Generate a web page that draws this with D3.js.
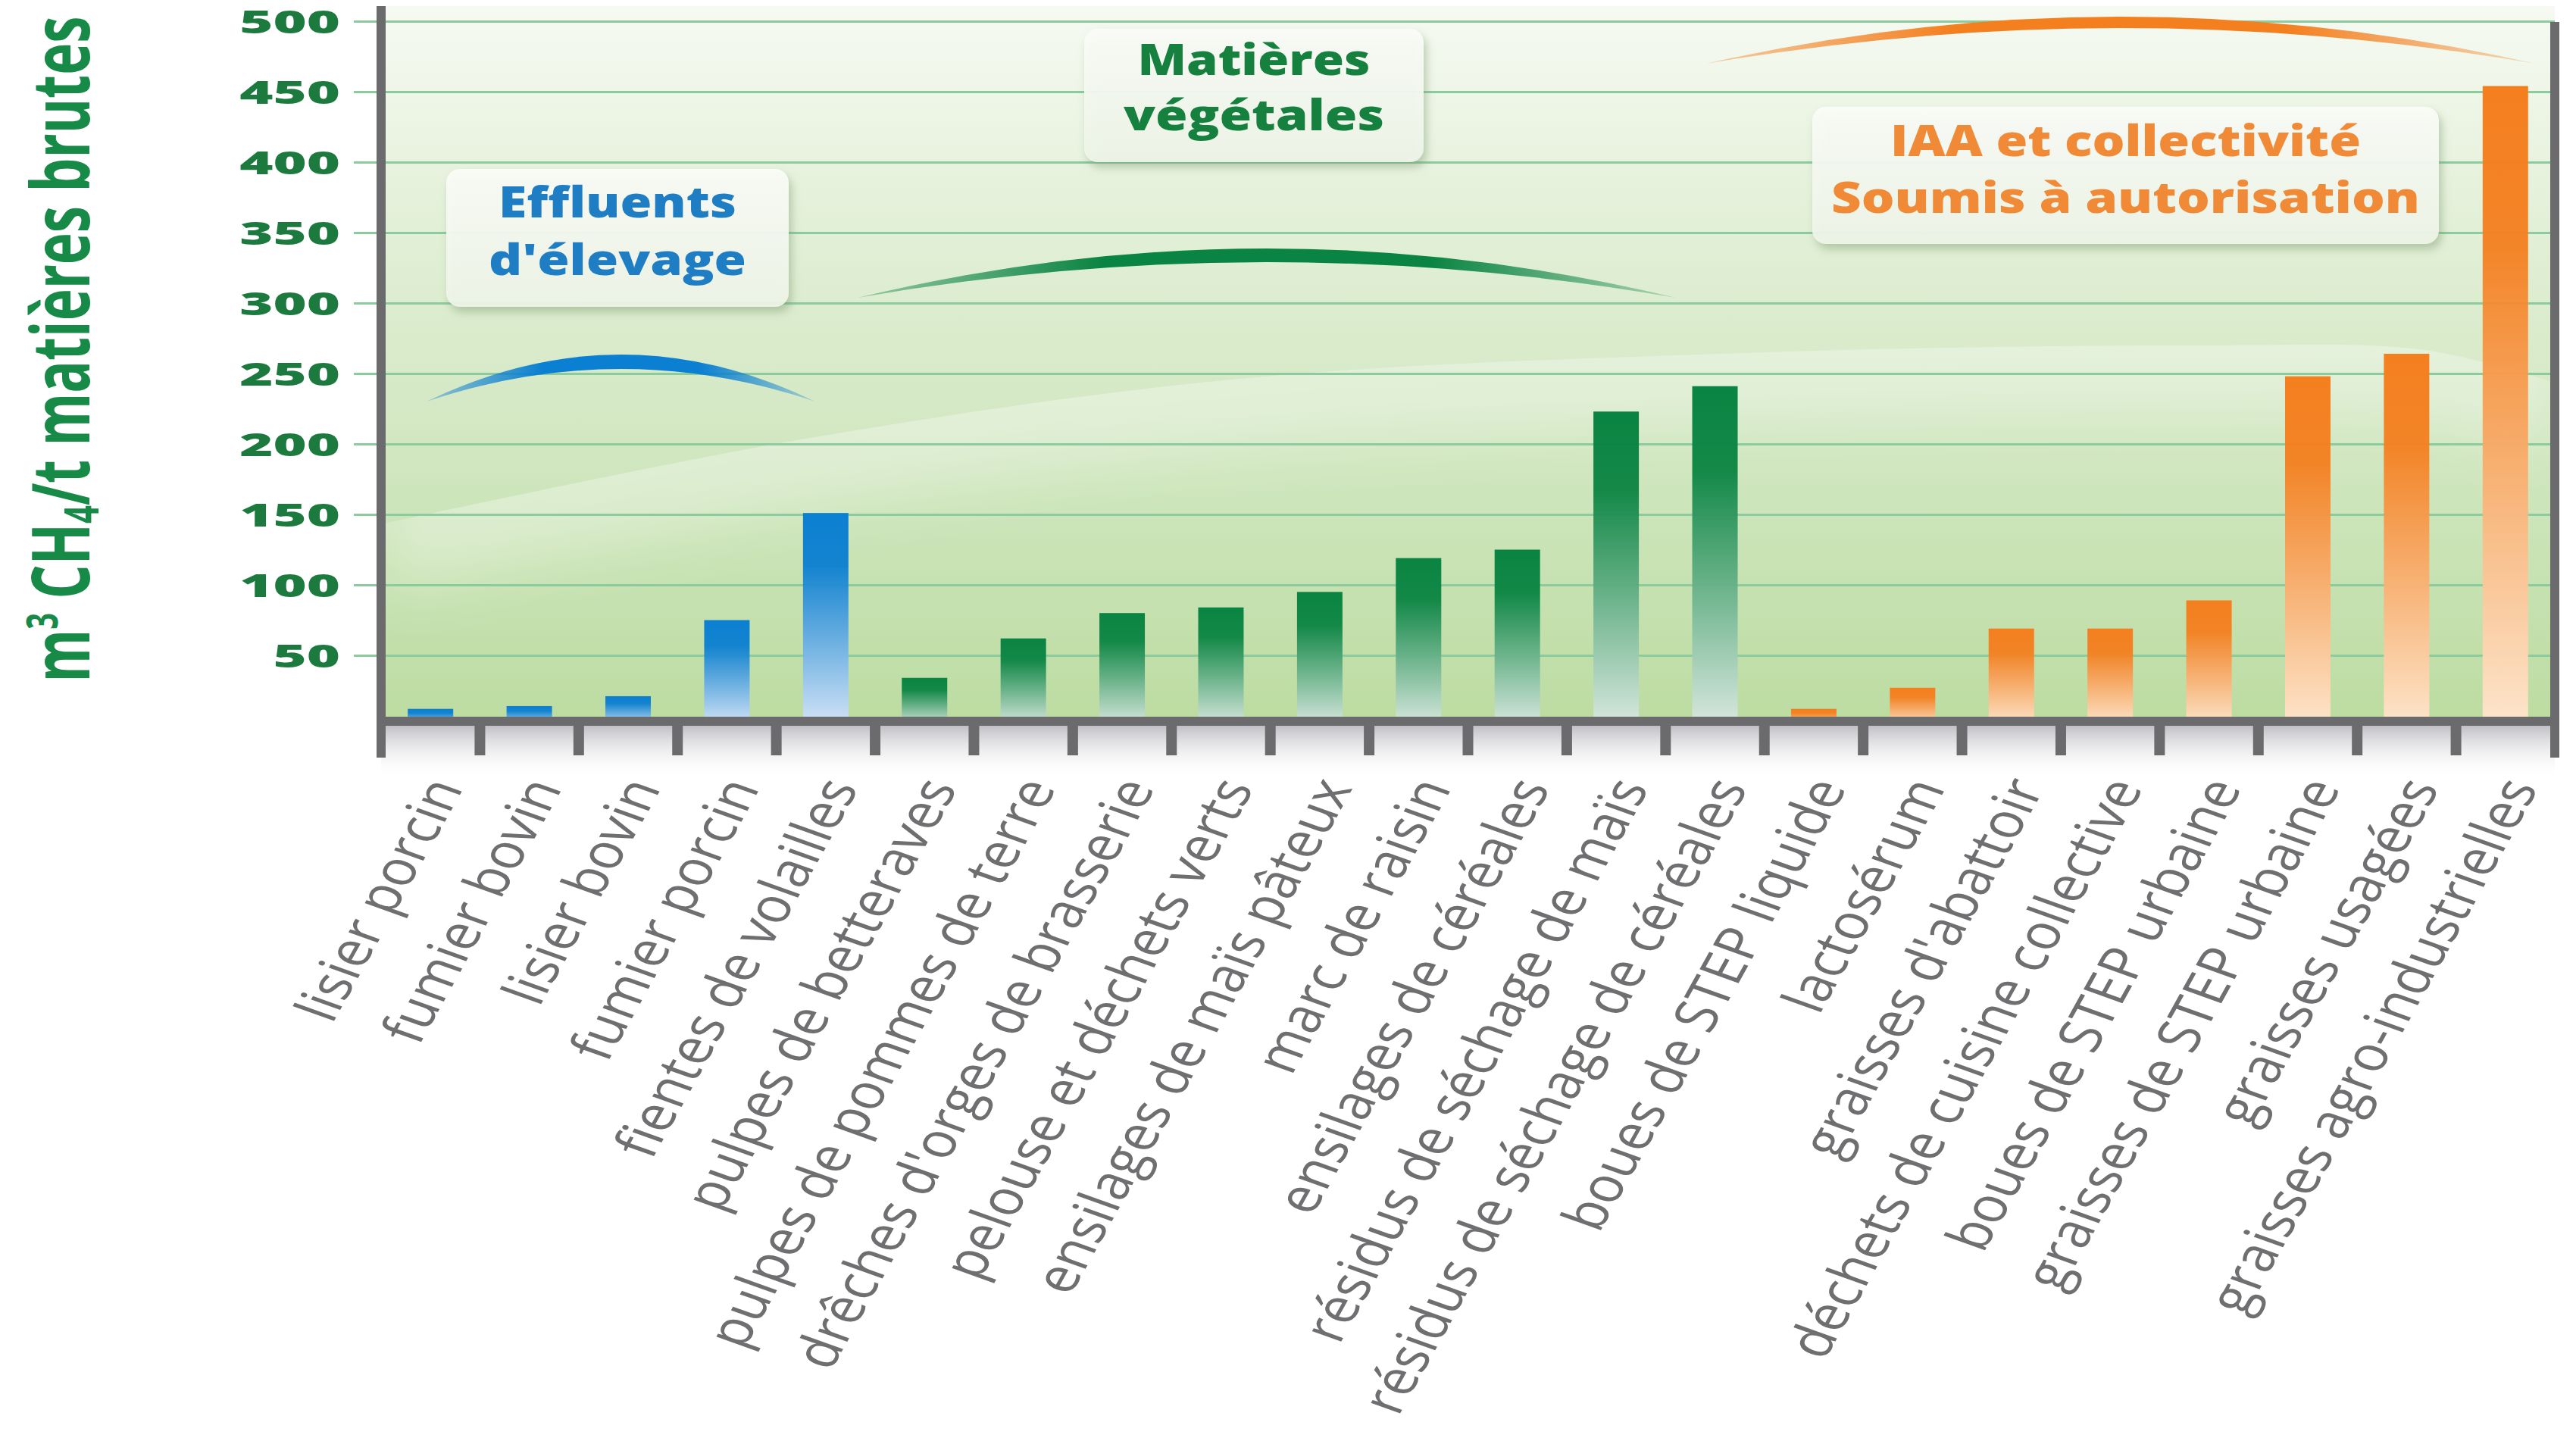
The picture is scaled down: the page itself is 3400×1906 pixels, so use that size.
<!DOCTYPE html>
<html>
<head>
<meta charset="utf-8">
<script src="https://cdn.jsdelivr.net/npm/d3@7"></script>
<style>
  body { margin: 0; background: #fff; }
  svg { display: block; }
</style>
</head>
<body>
<div id="app"></div>
<script>
// --- data ---
const categories = [
    "lisier porcin", "fumier bovin", "lisier bovin", "fumier porcin", "fientes de volailles",
    "pulpes de betteraves", "pulpes de pommes de terre", "drêches d'orges de brasserie",
    "pelouse et déchets verts", "ensilages de maïs pâteux", "marc de raisin",
    "ensilages de céréales", "résidus de séchage de maïs", "résidus de séchage de céréales",
    "boues de STEP liquide", "lactosérum", "graisses d'abattoir", "déchets de cuisine collective",
    "boues de STEP urbaine", "graisses de STEP urbaine", "graisses usagées", "graisses agro-industrielles"
];
const values = [12, 14, 21, 75, 151, 34, 62, 80, 84, 95, 119, 125, 223, 241, 12, 27, 69, 69, 89, 248, 264, 454];
const groupOf = [0, 0, 0, 0, 0, 1, 1, 1, 1, 1, 1, 1, 1, 1, 2, 2, 2, 2, 2, 2, 2, 2];
const groupTitles = [
    ["Effluents", "d'élevage"],
    ["Matières", "végétales"],
    ["IAA et collectivité", "Soumis à autorisation"]
];
const yTicks = [50, 100, 150, 200, 250, 300, 350, 400, 450, 500];

// --- styles ---
const groupColors = [
    {top: "#0b7fd1", bottom: "#d4e4f7", text: "#1f7dc4"},
    {top: "#0a8442", bottom: "#d9e8df", text: "#16803f"},
    {top: "#f47f1f", bottom: "#fde5cc", text: "#f08a37"}
];

const width = 3400,
    height = 1906,
    pLeft = 503,
    pRight = 3372,
    pTop = 28,
    pBase = 958;

const x = d3.scaleBand().domain(categories).range([pLeft, pRight]).paddingInner(0.54).paddingOuter(0.27);
const y = d3.scaleLinear().domain([0, 500]).range([pBase, pTop]);

const svg = d3.select("#app")
    .append("svg")
    .attr("width", width)
    .attr("height", height);

const defs = svg.append("defs");

// background gradient of the plot
const bg = defs.append("linearGradient").attr("id", "bgGrad")
    .attr("x1", 0).attr("y1", 0).attr("x2", 0).attr("y2", 1);
[[0, "#f6faf2"], [0.3, "#e3f0d8"], [0.65, "#cfe6be"], [1, "#bcdca1"]].forEach(s =>
    bg.append("stop").attr("offset", s[0]).attr("stop-color", s[1]));

// bar gradients, one per group
groupColors.forEach((c, i) => {
    const g = defs.append("linearGradient").attr("id", "barGrad" + i)
        .attr("x1", 0).attr("y1", 0).attr("x2", 0).attr("y2", 1);
    g.append("stop").attr("offset", 0).attr("stop-color", c.top);
    g.append("stop").attr("offset", 0.25).attr("stop-color", c.top).attr("stop-opacity", 0.95);
    g.append("stop").attr("offset", 1).attr("stop-color", c.bottom);
});

// arc gradients (fade at the ends)
groupColors.forEach((c, i) => {
    const g = defs.append("linearGradient").attr("id", "arcGrad" + i)
        .attr("x1", 0).attr("y1", 0).attr("x2", 1).attr("y2", 0);
    g.append("stop").attr("offset", 0).attr("stop-color", c.top).attr("stop-opacity", 0.35);
    g.append("stop").attr("offset", 0.3).attr("stop-color", c.top).attr("stop-opacity", 1);
    g.append("stop").attr("offset", 0.7).attr("stop-color", c.top).attr("stop-opacity", 1);
    g.append("stop").attr("offset", 1).attr("stop-color", c.top).attr("stop-opacity", 0.25);
});

const boxGrad = defs.append("linearGradient").attr("id", "boxGrad")
    .attr("x1", 0).attr("y1", 0).attr("x2", 0).attr("y2", 1);
boxGrad.append("stop").attr("offset", 0).attr("stop-color", "#fbfcf8");
boxGrad.append("stop").attr("offset", 1).attr("stop-color", "#eef5e8");

const shGrad = defs.append("linearGradient").attr("id", "shGrad")
    .attr("x1", 0).attr("y1", 0).attr("x2", 0).attr("y2", 1);
shGrad.append("stop").attr("offset", 0).attr("stop-color", "#bdbcc2");
shGrad.append("stop").attr("offset", 1).attr("stop-color", "#ffffff").attr("stop-opacity", 0);

const shadow = defs.append("filter").attr("id", "boxShadow")
    .attr("x", "-10%").attr("y", "-10%").attr("width", "130%").attr("height", "140%");
shadow.append("feDropShadow").attr("dx", 4).attr("dy", 7).attr("stdDeviation", 6)
    .attr("flood-color", "#6f8f64").attr("flood-opacity", 0.45);

const blur = defs.append("filter").attr("id", "blur")
    .attr("x", "-20%").attr("y", "-150%").attr("width", "140%").attr("height", "400%");
blur.append("feGaussianBlur").attr("stdDeviation", 35);

// plot background
svg.append("rect")
    .attr("x", pLeft).attr("y", 8)
    .attr("width", pRight - pLeft).attr("height", pBase - 8)
    .attr("fill", "url(#bgGrad)");

// light swoosh across the background
const swoosh = [[503, 692], [1058, 580], [1636, 500], [2300, 466], [2900, 456], [3200, 462], [3372, 505]];
const lineGen = d3.line().curve(d3.curveCatmullRom);
defs.append("clipPath").attr("id", "swClip").append("path")
    .attr("d", lineGen(swoosh) + `L${pRight},${pBase}L${pLeft},${pBase}Z`);
svg.append("g").attr("clip-path", "url(#swClip)")
    .append("path")
    .attr("d", lineGen(swoosh))
    .attr("fill", "none")
    .attr("stroke", "#ffffff")
    .attr("stroke-width", 180)
    .attr("stroke-opacity", 0.3)
    .attr("filter", "url(#blur)");

//Grid lines + y tick labels
const yAxis = svg.append("g")
    .attr("transform", `translate(${pLeft},0)`)
    .call(d3.axisLeft(y).tickValues(yTicks).tickSizeInner(-(pRight - pLeft)).tickSizeOuter(0))
    .attr("font-family", "'Open Sans', sans-serif")
    .attr("font-size", 42)
    .attr("font-weight", 800);
yAxis.select(".domain").remove();
yAxis.selectAll(".tick line")
    .attr("x1", -36)
    .attr("stroke", "#8bcb9d")
    .attr("stroke-width", 3);
yAxis.selectAll(".tick text")
    .attr("fill", "#1d7a3f")
    .attr("x", -30)
    .attr("dy", "0.36em")
    .attr("transform", "scale(1.8,1)");

// arcs over each group
const arcs = [
    {g: 0, x0: 563, x1: 1076, yEnd: 530, yPeak: 468, t: 19},
    {g: 1, x0: 1132, x1: 2212, yEnd: 393, yPeak: 328, t: 18},
    {g: 2, x0: 2252, x1: 3346, yEnd: 84, yPeak: 22, t: 15}
];
svg.append("g").selectAll("path")
    .data(arcs).join("path")
    .attr("d", a => {
        const xm = (a.x0 + a.x1) / 2;
        return `M${a.x0},${a.yEnd}Q${xm},${2 * a.yPeak - a.yEnd} ${a.x1},${a.yEnd}` +
            `Q${xm},${2 * (a.yPeak + a.t) - a.yEnd} ${a.x0},${a.yEnd}Z`;
    })
    .attr("fill", a => `url(#arcGrad${a.g})`);

// group label boxes
const boxes = [
    {g: 0, x: 589, y: 223, w: 452, h: 182, base: [287, 363], len: [314, 340]},
    {g: 1, x: 1431, y: 38, w: 448, h: 176, base: [99, 172], len: [307, 344]},
    {g: 2, x: 2392, y: 141, w: 827, h: 181, base: [206, 281], len: [621, 777]}
];
const boxG = svg.append("g").selectAll("g").data(boxes).join("g");
boxG.append("rect")
    .attr("x", b => b.x).attr("y", b => b.y)
    .attr("width", b => b.w).attr("height", b => b.h)
    .attr("rx", 18)
    .attr("fill", "url(#boxGrad)")
    .attr("fill-opacity", 0.93)
    .attr("filter", "url(#boxShadow)");
boxG.each(function (b) {
    d3.select(this).selectAll("text")
        .data(groupTitles[b.g]).join("text")
        .attr("x", b.x + b.w / 2)
        .attr("y", (d, i) => b.base[i])
        .attr("text-anchor", "middle")
        .attr("font-family", "'Open Sans', sans-serif")
        .attr("font-weight", 800)
        .attr("font-size", 56)
        .attr("textLength", (d, i) => b.len[i])
        .attr("lengthAdjust", "spacingAndGlyphs")
        .attr("fill", groupColors[b.g].text)
        .text(d => d);
});

// bars
const rows = categories.map((c, i) => ({c, v: values[i], g: groupOf[i]}));
svg.append("g").selectAll("rect")
    .data(rows).join("rect")
    .attr("x", d => x(d.c))
    .attr("y", d => y(d.v))
    .attr("width", x.bandwidth())
    .attr("height", d => y(0) - y(d.v))
    .attr("fill", d => `url(#barGrad${d.g})`);

// shadow below the x axis
svg.append("rect")
    .attr("x", pLeft).attr("y", pBase - 2)
    .attr("width", pRight - pLeft).attr("height", 72)
    .attr("fill", "url(#shGrad)");

// axis frame
const axisColor = "#6b6b6e";
svg.append("line")
    .attr("x1", pLeft - 6).attr("x2", pRight + 6)
    .attr("y1", 952).attr("y2", 952)
    .attr("stroke", axisColor).attr("stroke-width", 12);
svg.append("line")
    .attr("x1", pLeft).attr("x2", pLeft)
    .attr("y1", 8).attr("y2", 1000)
    .attr("stroke", axisColor).attr("stroke-width", 12);
svg.append("line")
    .attr("x1", pRight).attr("x2", pRight)
    .attr("y1", 29).attr("y2", 1000)
    .attr("stroke", axisColor).attr("stroke-width", 12);

// ticks between categories
svg.append("g").selectAll("line")
    .data(d3.range(1, categories.length)).join("line")
    .attr("x1", i => pLeft + i * x.step())
    .attr("x2", i => pLeft + i * x.step())
    .attr("y1", 952).attr("y2", 997)
    .attr("stroke", axisColor).attr("stroke-width", 14);

//Create X-Axis labels
const xAxis = svg.append("g")
    .attr("transform", `translate(0, ${pBase})`)
    .call(d3.axisBottom(x).tickSize(0))
    .attr("font-family", "'Open Sans', sans-serif")
    .attr("font-size", 63);
xAxis.select(".domain").remove();
xAxis.selectAll(".tick text")
    .attr("fill", "#6f6f72")
    .attr("x", 0).attr("y", 0).attr("dy", 0)
    .attr("text-anchor", "end")
    .attr("transform", "translate(44, 82) scale(1.25,1) rotate(-66)");

// y axis title
const title = svg.append("text")
    .attr("transform", "translate(118,461) scale(1.5,1) rotate(-90)")
    .attr("text-anchor", "middle")
    .attr("font-family", "'Open Sans', sans-serif")
    .attr("font-weight", 700)
    .attr("font-size", 71)
    .attr("fill", "#178a47");
title.append("tspan").text("m");
title.append("tspan").attr("font-size", 38).attr("dy", -28).text("3");
title.append("tspan").attr("dy", 28).text(" CH");
title.append("tspan").attr("font-size", 42).attr("dy", 8).text("4");
title.append("tspan").attr("dy", -8).text("/t matières brutes");
</script>
</body>
</html>
